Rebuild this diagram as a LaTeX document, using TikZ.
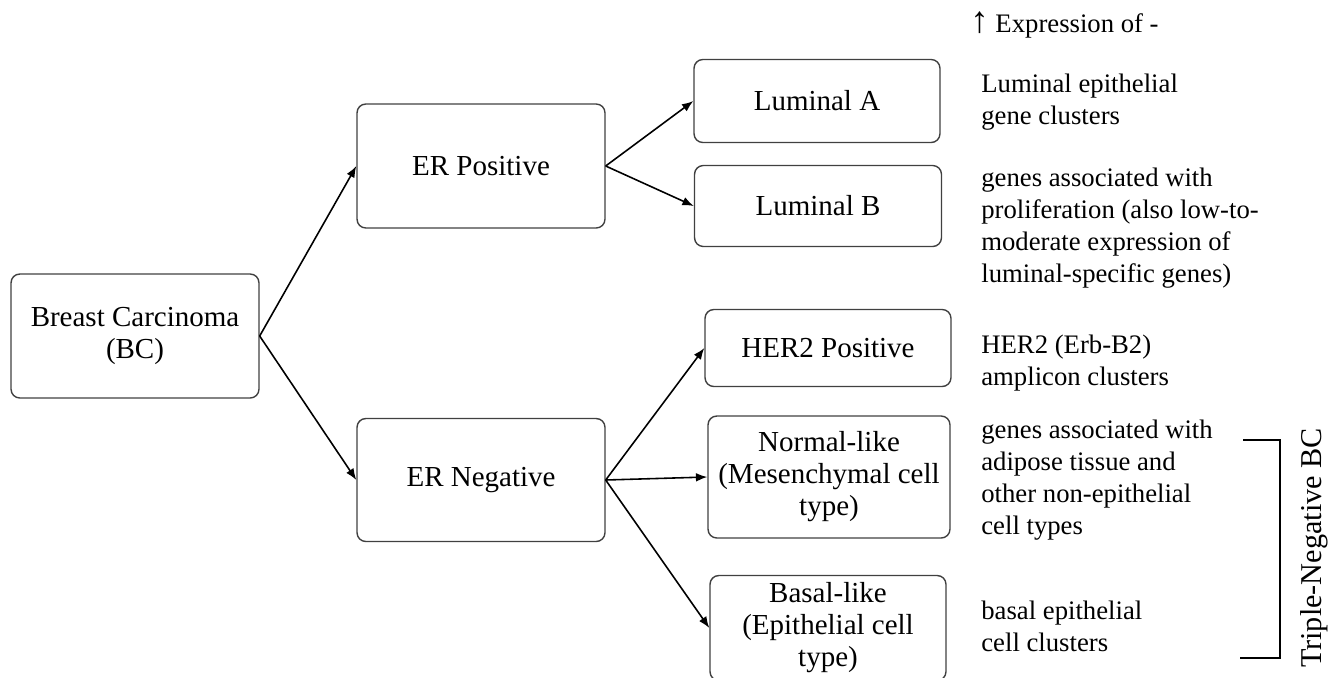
\documentclass[tikz,border=0pt]{standalone}
\usepackage{fontspec}
\setmainfont{Liberation Serif}
\usepackage{tikz}
\usetikzlibrary{arrows,arrows.meta}

\begin{document}
\begin{tikzpicture}[x=0.02cm,y=-0.02cm,
        font=\fontsize{16.5}{18.2}\selectfont,
        box/.style={draw=black!75, line width=0.8pt, rounded corners=5pt, align=center, inner sep=2pt},
        note/.style={anchor=west, align=left, inner sep=0pt, font=\fontsize{15.2}{18.2}\selectfont},
        link/.style={->, >={Latex[length=6.5pt,width=5pt]}, line width=0.9pt}]
        \clip (0,0) rectangle (1328,677);

        % tree
        \node (bc) at (135,336) [box, minimum width=4.96cm, minimum height=2.48cm] {Breast Carcinoma\\(BC)};
        \node (erpos) at (481,166) [box, minimum width=4.96cm, minimum height=2.48cm] {ER Positive};
        \node (erneg) at (481,480) [box, minimum width=4.96cm, minimum height=2.46cm] {ER Negative};

        \node (luma) at (817,101) [box, minimum width=4.92cm, minimum height=1.66cm] {Luminal A};
        \node (lumb) at (818,206) [box, minimum width=4.94cm, minimum height=1.62cm] {Luminal B};
        \node (her2) at (828,348) [box, minimum width=4.92cm, minimum height=1.54cm] {HER2 Positive};
        \node (normal) at (829,477) [box, minimum width=4.84cm, minimum height=2.44cm] {Normal-like\\(Mesenchymal cell\\type)};
        \node (basal) at (828,628) [box, minimum width=4.72cm, minimum height=2.1cm] {Basal-like\\(Epithelial cell\\type)};

        \draw [link] (bc.east) -- (erpos.west);
        \draw [link] (bc.east) -- (erneg.west);
        \draw [link] (erpos.east) -- (luma.west);
        \draw [link] (erpos.east) -- (lumb.west);
        \draw [link] (erneg.east) -- (her2.west);
        \draw [link] (erneg.east) -- (normal.west);
        \draw [link] (erneg.east) -- (basal.west);

        % expression notes
        \node (exprhead) at (970,25) [note] {{\fontsize{21}{18.2}\selectfont ↑} Expression of -};
        \node (noteluma) at (981,102) [note] {Luminal epithelial\\gene clusters};
        \node (notelumb) at (981,228) [note] {genes associated with\\proliferation (also low-to-\\moderate expression of\\luminal-specific genes)};
        \node (noteher2) at (981,363) [note] {HER2 (Erb-B2)\\amplicon clusters};
        \node (notenormal) at (981,480) [note] {genes associated with\\adipose tissue and\\other non-epithelial\\cell types};
        \node (notebasal) at (981,626) [note] {basal epithelial\\cell clusters};

        % triple negative bracket
        \draw [line width=1pt] (1243,440) -| (1280,658) -- (1240,658);
        \node (tnbc) at (1314,548) [rotate=90, font=\fontsize{17.2}{18.2}\selectfont] {Triple-Negative BC};
\end{tikzpicture}
\end{document}
